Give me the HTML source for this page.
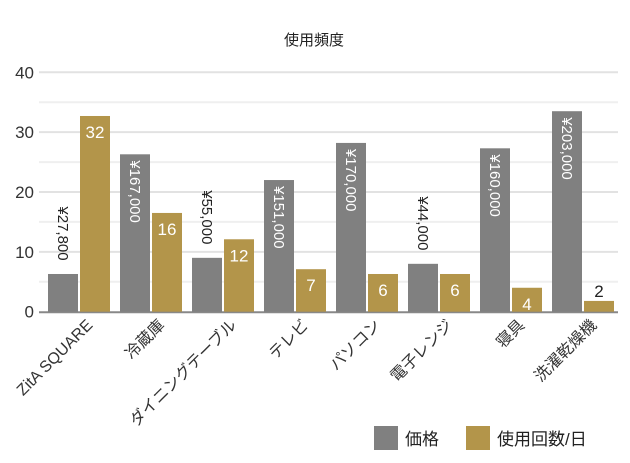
<!DOCTYPE html>
<html><head><meta charset="utf-8"><style>
body{margin:0;background:#fff;}
svg{display:block;font-family:"Liberation Sans","Noto Sans CJK JP",sans-serif;}
</style></head><body>
<svg id="chart" width="630" height="463" viewBox="0 0 630 463">
<text x="314" y="45" text-anchor="middle" font-size="15" fill="#222">使用頻度</text>
<g id="grid"></g><g id="bars"></g><g id="xlabels"></g>
<g>
<rect x="374" y="426" width="24" height="24" fill="#808080"/>
<text x="405" y="445" font-size="17" fill="#222">価格</text>
<rect x="466" y="426" width="24" height="24" fill="#b3954a"/>
<text x="497" y="445" font-size="17" fill="#222">使用回数/日</text>
</g>
</svg>
<script>
const categories=["ZitA SQUARE","冷蔵庫","ダイニングテーブル","テレビ","パソコン","電子レンジ","寝具","洗濯乾燥機"];
const priceValues=[6.3,26.3,9.0,22.0,28.2,8.0,27.3,33.5];
const priceLabels=["¥27,800","¥167,000","¥55,000","¥151,000","¥170,000","¥44,000","¥160,000","¥203,000"];
const usageValues=[32.7,16.5,12.1,7.1,6.3,6.3,4.0,1.8];
const usageLabels=["32","16","12","7","6","6","4","2"];
const yTicks=[0,10,20,30,40];
const NS="http://www.w3.org/2000/svg";
const x0=39.5,band=72,y0=311.7,yTop=72.3,yMax=40;
const yScale=v=>y0-(v/yMax)*(y0-yTop);
const xBand=i=>x0+i*band;
function mk(tag,attrs,parent){const e=document.createElementNS(NS,tag);for(const k in attrs)e.setAttribute(k,attrs[k]);parent.appendChild(e);return e;}
const grid=document.getElementById('grid'),bars=document.getElementById('bars'),xl=document.getElementById('xlabels');
for(let v=5;v<=40;v+=5){
 const l=mk('line',{x1:39,x2:618,y1:yScale(v),y2:yScale(v),stroke:v%10===0?'#e2e2e2':'#efefef','stroke-width':2},grid);
 
 
}
yTicks.forEach(v=>{
 const t=mk('text',{x:34,y:yScale(v)+6,'text-anchor':'end','font-size':17,fill:'#333'},grid);
 
 
 t.textContent=v;
});
const base=mk('line',{x1:39,x2:618,y1:y0+0.5,y2:y0+0.5,stroke:'#888','stroke-width':2},grid);


categories.forEach((c,i)=>{
 const gx=xBand(i)+8.5, ux=gx+32, w=30;
 const py=yScale(priceValues[i]);
 const r1=mk('rect',{x:gx,y:py,width:w,height:y0-py,fill:'#808080'},bars);
 
 
 const len=priceLabels[i].length*8.8;
 const inside=(y0-py)>len+10;
 const ly=inside?py+6:py-len-6;
 const t1=mk('text',{x:0,y:0,'font-size':15,fill:inside?'#fff':'#222',transform:`translate(${gx+w/2-5},${ly}) rotate(90)`},bars);
 
 
 t1.textContent=priceLabels[i];
 const uy=yScale(usageValues[i]);
 const r2=mk('rect',{x:ux,y:uy,width:w,height:y0-uy,fill:'#b3954a'},bars);
 
 
 const fits=(y0-uy)>20;
 const t2=mk('text',{x:ux+w/2,y:fits?uy+22:uy-4,'text-anchor':'middle','font-size':17,fill:fits?'#fff':'#222'},bars);
 
 
 t2.textContent=usageLabels[i];
 const cx=xBand(i)+band/2+18;
 const t3=mk('text',{x:0,y:0,'text-anchor':'end','font-size':16,fill:'#333',transform:`translate(${cx},${326}) rotate(-45)`},xl);
 
 
 t3.textContent=c;
});
</script>
</body></html>
